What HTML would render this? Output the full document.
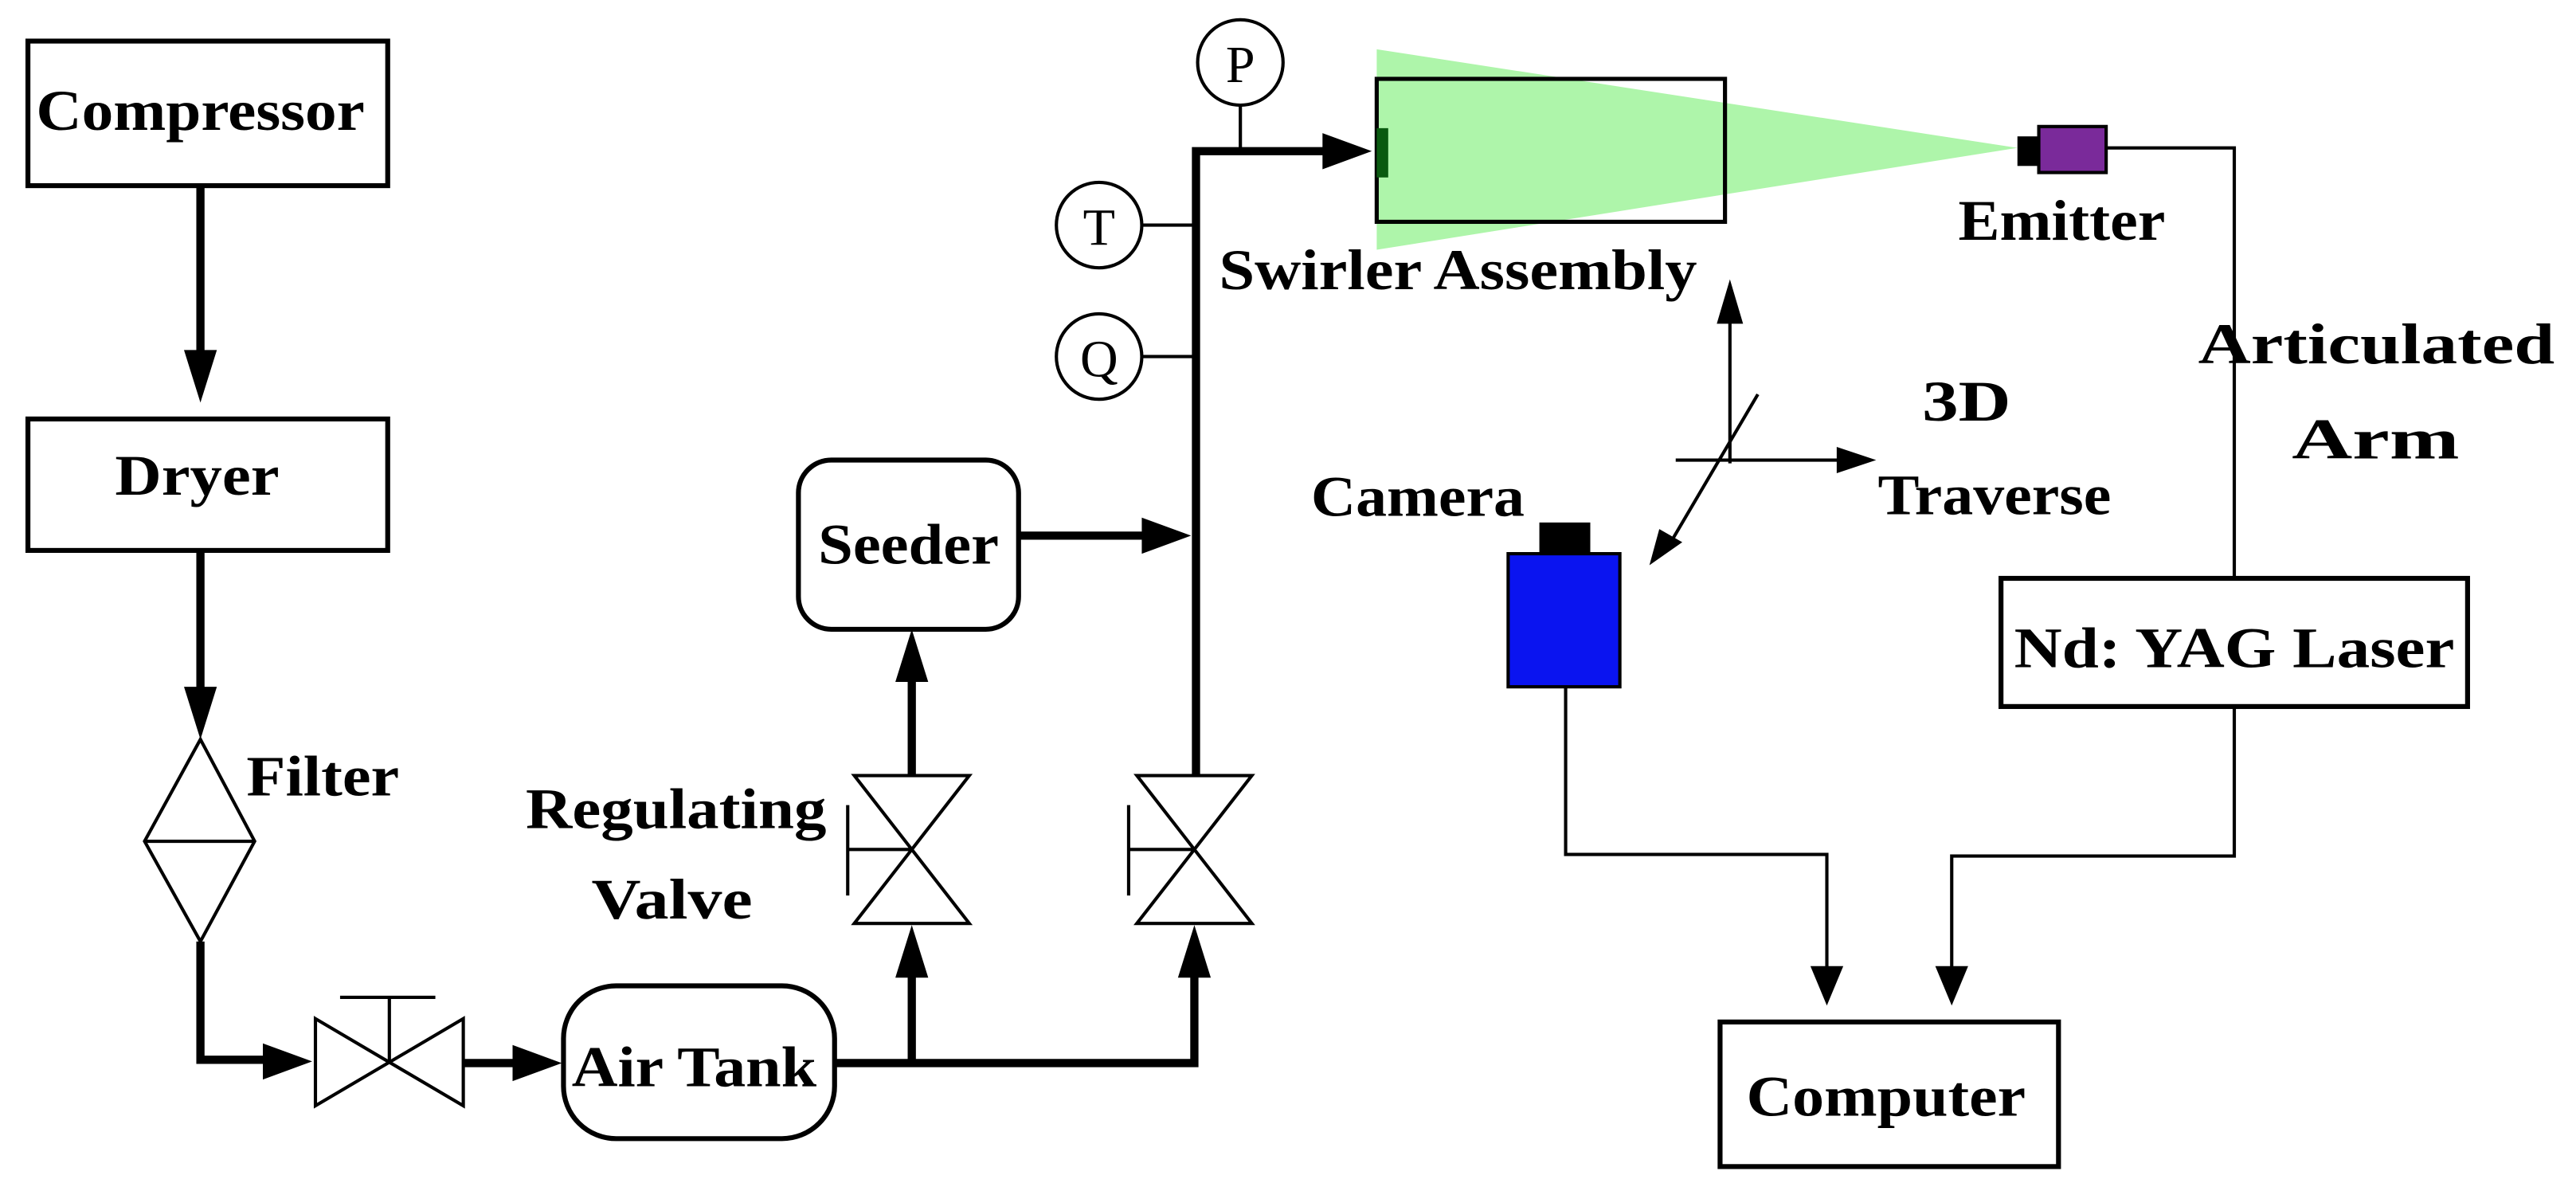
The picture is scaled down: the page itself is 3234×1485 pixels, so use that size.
<!DOCTYPE html>
<html><head><meta charset="utf-8"><style>
html,body{margin:0;padding:0;background:#fff;}
svg{display:block;}
text{font-family:"Liberation Serif","Times New Roman",serif;font-weight:bold;font-size:35px;fill:#000;}
.n{font-weight:normal;font-size:32px;}
</style></head><body>
<svg width="3234" height="1485" viewBox="0 0 1568 720" xmlns="http://www.w3.org/2000/svg">
<g fill="none" stroke="#000">
<rect x="17" y="25" width="219" height="88" stroke-width="3"/>
<rect x="17" y="255" width="219" height="80" stroke-width="3"/>
<rect x="343" y="600" width="165" height="93" rx="32" stroke-width="3"/>
<rect x="486" y="280" width="134" height="103" rx="20" stroke-width="3"/>
<rect x="1218" y="352" width="284" height="78" stroke-width="3"/>
<rect x="1047" y="622" width="206" height="88" stroke-width="3"/>
<path d="M122,450 L155,512 L122,573 L88,512 Z M88,512 H155" stroke-width="2"/>
<path d="M192,620 L282,673 L282,620 L192,673 Z M237,647 V607 M207,607 H265" stroke-width="2"/>
<path d="M520,472 L590,562 L520,562 L590,472 Z M555,517 H516 M516,490 V545" stroke-width="2"/>
<path d="M692,472 L762,562 L692,562 L762,472 Z M727,517 H687 M687,490 V545" stroke-width="2"/>
<g stroke-width="5">
<path d="M122,113 V225" />
<path d="M122,335 V430" />
<path d="M122,573 V645 H170" />
<path d="M282,647 H320" />
<path d="M508,647 H727 V583" />
<path d="M555,647 V583" />
<path d="M555,472 V405" />
<path d="M620,326 H700" />
<path d="M728,472 V92 H812" />
</g>
<g stroke-width="2">
<circle cx="755" cy="38" r="26" fill="#fff"/>
<circle cx="669" cy="137" r="26" fill="#fff"/>
<circle cx="669" cy="217" r="26" fill="#fff"/>
<path d="M755,64 V92 M695,137 H728 M695,217 H728"/>
</g>
</g>
<g fill="#000">
<path d="M112,213 L132,213 L122,245 Z"/>
<path d="M112,418 L132,418 L122,450 Z"/>
<path d="M160,635 L160,657 L190,646 Z"/>
<path d="M312,636 L312,658 L342,647 Z"/>
<path d="M545,595 L565,595 L555,563 Z"/>
<path d="M717,595 L737,595 L727,563 Z"/>
<path d="M545,415 L565,415 L555,383 Z"/>
<path d="M695,315 L695,337 L725,326 Z"/>
<path d="M805,81 L805,103 L835,92 Z"/>
</g>
<polygon points="838,30 1228,90 838,152" fill="#aef5aa"/>
<rect x="838" y="48" width="212" height="87" fill="none" stroke="#000" stroke-width="2.5"/>
<rect x="838" y="78" width="7" height="30" fill="#0a5a10"/>
<rect x="1228" y="83" width="14" height="18" fill="#000"/>
<rect x="1241" y="77" width="41" height="28" fill="#7a2a9a" stroke="#000" stroke-width="2"/>
<rect x="937" y="318" width="31" height="20" fill="#000"/>
<rect x="918" y="337" width="68" height="81" fill="#0a14f0" stroke="#000" stroke-width="2"/>
<g fill="none" stroke="#000" stroke-width="2">
<path d="M1282,90 H1360 V352"/>
<path d="M1360,430 V521 H1188 V590"/>
<path d="M953,418 V520 H1112 V590"/>
<path d="M1053,282 V195"/>
<path d="M1020,280 H1120"/>
<path d="M1070,240 L1017,330"/>
</g>
<g fill="#000">
<path d="M1102,588 L1122,588 L1112,612 Z"/>
<path d="M1178,588 L1198,588 L1188,612 Z"/>
<path d="M1045,197 L1061,197 L1053,170 Z"/>
<path d="M1118,272 L1118,288 L1142,280 Z"/>
<path d="M1010,322 L1024,330 L1004,344 Z"/>
</g>
<text x="22" y="79" textLength="200" lengthAdjust="spacingAndGlyphs">Compressor</text>
<text x="70" y="301" textLength="100" lengthAdjust="spacingAndGlyphs">Dryer</text>
<text x="150" y="484" textLength="93" lengthAdjust="spacingAndGlyphs">Filter</text>
<text x="498" y="343" textLength="110" lengthAdjust="spacingAndGlyphs">Seeder</text>
<text x="348" y="661" textLength="149" lengthAdjust="spacingAndGlyphs">Air Tank</text>
<text x="320" y="504" textLength="183" lengthAdjust="spacingAndGlyphs">Regulating</text>
<text x="360" y="559" textLength="98" lengthAdjust="spacingAndGlyphs">Valve</text>
<text x="742" y="176" textLength="291" lengthAdjust="spacingAndGlyphs">Swirler Assembly</text>
<text x="1192" y="146" textLength="126" lengthAdjust="spacingAndGlyphs">Emitter</text>
<text x="798" y="314" textLength="130" lengthAdjust="spacingAndGlyphs">Camera</text>
<text x="1170" y="256" textLength="54" lengthAdjust="spacingAndGlyphs">3D</text>
<text x="1143" y="313" textLength="142" lengthAdjust="spacingAndGlyphs">Traverse</text>
<text x="1338" y="221" textLength="217" lengthAdjust="spacingAndGlyphs">Articulated</text>
<text x="1395" y="279" textLength="102" lengthAdjust="spacingAndGlyphs">Arm</text>
<text x="1226" y="406" textLength="268" lengthAdjust="spacingAndGlyphs">Nd: YAG Laser</text>
<text x="1063" y="679" textLength="170" lengthAdjust="spacingAndGlyphs">Computer</text>
<text class="n" x="755" y="50" text-anchor="middle">P</text>
<text class="n" x="669" y="149" text-anchor="middle">T</text>
<text class="n" x="669" y="229" text-anchor="middle">Q</text>
</svg>
</body></html>
